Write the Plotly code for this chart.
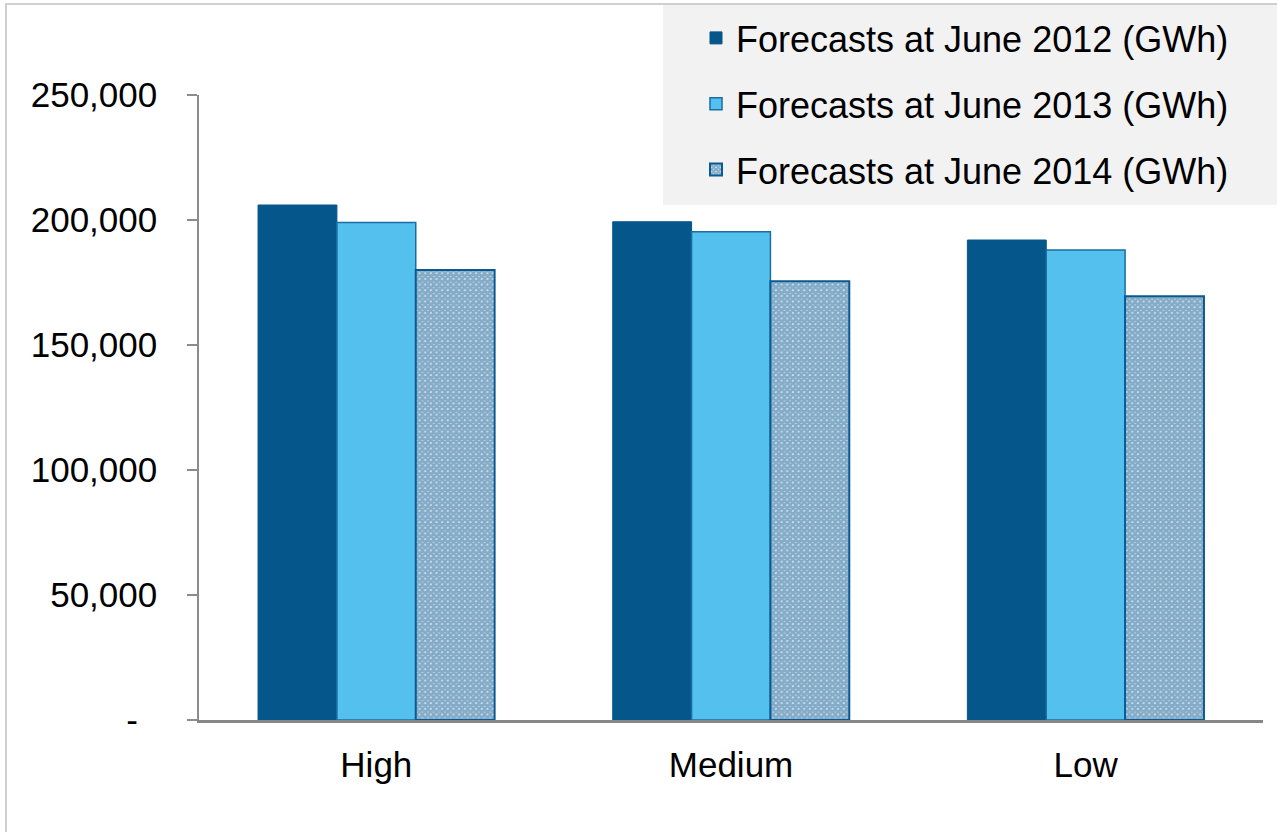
import plotly.graph_objects as go

categories = ["High", "Medium", "Low"]
series_names = [
    "Forecasts at June 2012 (GWh)",
    "Forecasts at June 2013 (GWh)",
    "Forecasts at June 2014 (GWh)",
]
forecast_2012 = [206000, 199300, 192000]
forecast_2013 = [199000, 195300, 188000]
forecast_2014 = [180000, 175500, 169500]
y_tick_values = [0, 50000, 100000, 150000, 200000, 250000]
y_tick_labels = ["-\u00a0\u00a0", "50,000", "100,000", "150,000", "200,000", "250,000"]

FONT = "Liberation Sans, Arial, sans-serif"
DARK = "#05568B"
LIGHT = "#54C0EE"
PAT = "#0A5A92"

fig = go.Figure()
fig.add_trace(go.Bar(
    name=series_names[0], x=categories, y=forecast_2012,
    marker=dict(color=DARK, line=dict(color=DARK, width=1)),
    legendgroup="a",
))
fig.add_trace(go.Bar(
    name=series_names[1], x=categories, y=forecast_2013,
    marker=dict(color=LIGHT, line=dict(color="#1B6DA3", width=1.5)),
    legendgroup="b",
))
fig.add_trace(go.Bar(
    name=series_names[2], x=categories, y=forecast_2014,
    marker=dict(
        color="white",
        line=dict(color=PAT, width=2),
        pattern=dict(shape="x", fgcolor=PAT, bgcolor="white", size=4, solidity=0.9),
    ),
    legendgroup="c",
))

W, H = 1277, 832
L, R, T, B = 199, 14, 95, 112
pw, ph = W - L - R, H - T - B

def px_x(x):
    return (x - L) / pw

def px_y(y):
    return (H - B - y) / ph

# outer frame
fig.add_shape(type="rect", xref="paper", yref="paper",
              x0=px_x(6), x1=px_x(1300), y0=px_y(4), y1=px_y(860),
              line=dict(color="#CFCFCF", width=2), fillcolor="rgba(0,0,0,0)", layer="below")
# legend background
fig.add_shape(type="rect", xref="paper", yref="paper",
              x0=px_x(663), x1=px_x(1290), y0=px_y(5), y1=px_y(205),
              line=dict(width=0), fillcolor="#F2F2F2", layer="below")

fig.update_layout(
    width=W, height=H,
    margin=dict(l=L, r=R, t=T, b=B, pad=0, autoexpand=False),
    paper_bgcolor="white", plot_bgcolor="white",
    barmode="group", bargap=0.333, bargroupgap=0,
    font=dict(family=FONT, size=34, color="black"),
    showlegend=True,
    legend=dict(
        x=px_x(696), y=px_y(8), xanchor="left", yanchor="top",
        bgcolor="rgba(0,0,0,0)", font=dict(family=FONT, size=36, color="black"),
        tracegroupgap=16, traceorder="grouped",
    ),
    xaxis=dict(
        showline=True, linecolor="#868686", linewidth=3,
        ticks="", showgrid=False, zeroline=False,
        tickfont=dict(family=FONT, size=35, color="black"),
        ticklabelstandoff=12,
        fixedrange=True,
    ),
    yaxis=dict(
        range=[0, 250000], tickvals=y_tick_values, ticktext=y_tick_labels,
        showline=True, linecolor="#8C8C8C", linewidth=1.5,
        ticks="outside", ticklen=10, tickcolor="#8C8C8C", tickwidth=1.5,
        showgrid=False, zeroline=False,
        tickfont=dict(family=FONT, size=35, color="black"),
        ticklabelstandoff=23,
        fixedrange=True,
    ),
)

fig.write_html("out.html", config={"displayModeBar": False})
